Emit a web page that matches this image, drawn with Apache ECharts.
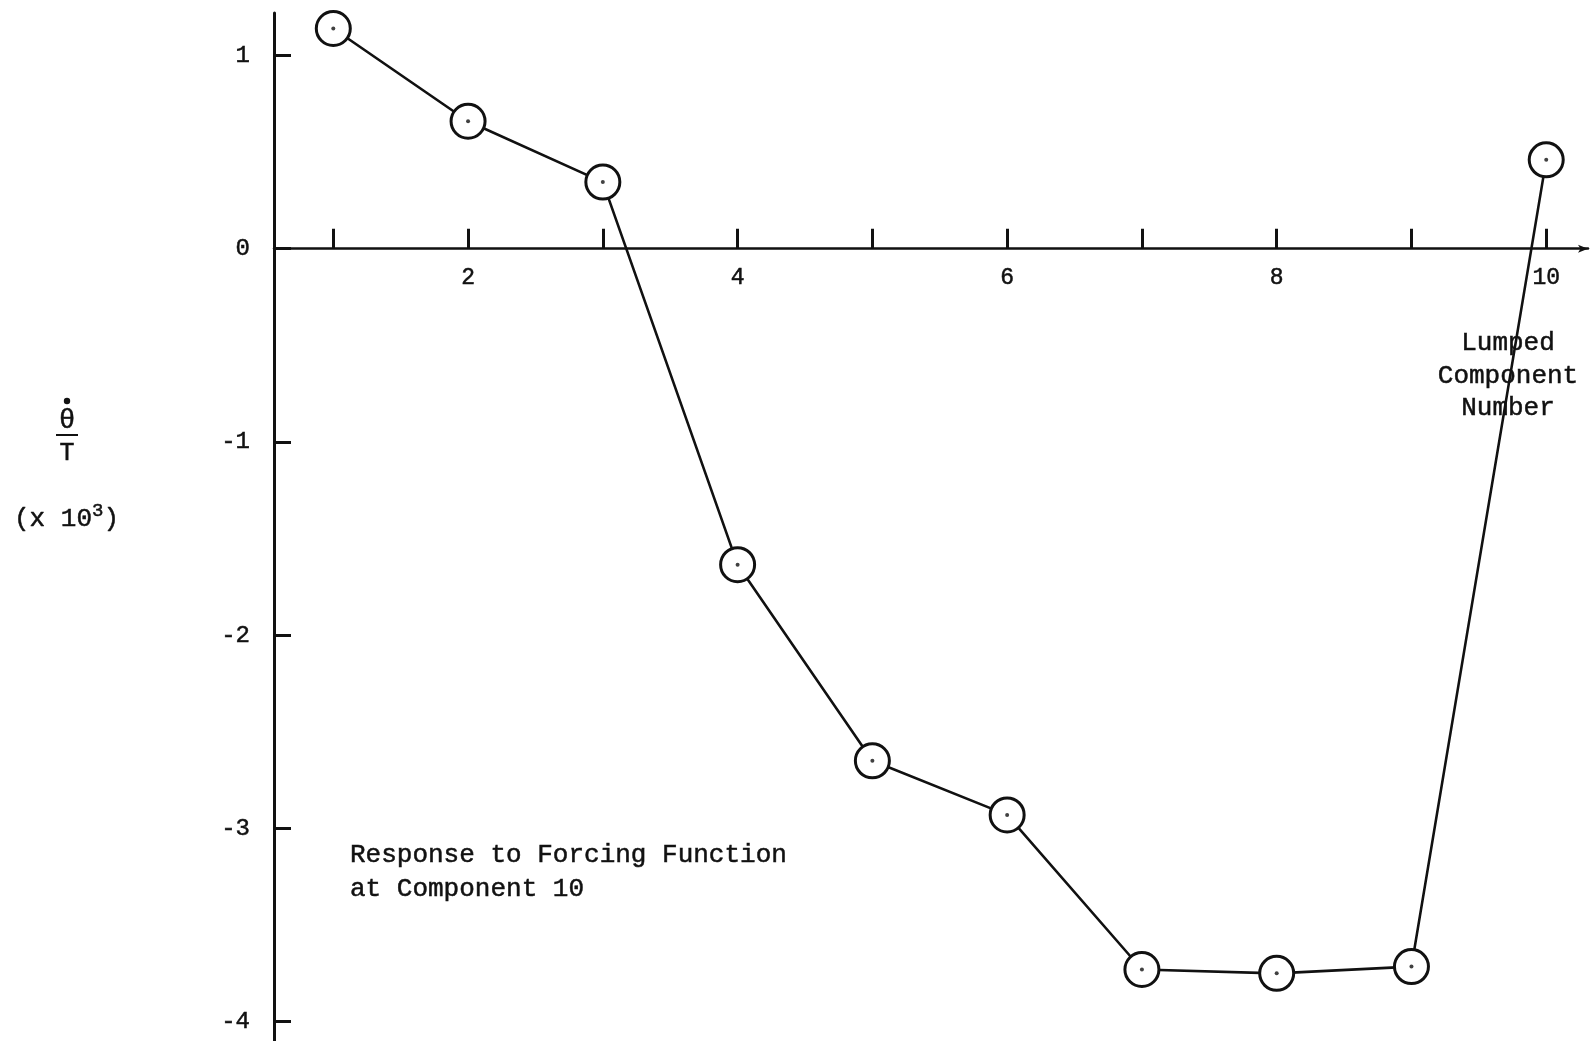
<!DOCTYPE html>
<html>
<head>
<meta charset="utf-8">
<title>Response to Forcing Function at Component 10</title>
<script src="https://cdn.jsdelivr.net/npm/echarts@6/dist/echarts.min.js"></script>
<style>
  html, body { margin: 0; padding: 0; background: #fff; }
  #chart { width: 1590px; height: 1041px; }
</style>
</head>
<body>
<div id="chart"></div>
<script>
// Lumped component numbers and the normalised response (theta-dot / T, x 10^3)
const componentNumbers = [1, 2, 3, 4, 5, 6, 7, 8, 9, 10];
const responseValues = [1.14, 0.66, 0.345, -1.635, -2.65, -2.93, -3.73, -3.75, -3.715, 0.46];

// Axis ticks and labelled values
const xTickValues = [1, 2, 3, 4, 5, 6, 7, 8, 9, 10];
const xTickLabels = [2, 4, 6, 8, 10];
const yTickValues = [-4, -3, -2, -1, 0, 1];

const points = componentNumbers.map((c, i) => [c, responseValues[i]]);

const MONO = '"Liberation Mono", "DejaVu Sans Mono", monospace';
const INK = '#111';

// plot area
const GRID_TOP = 13, GRID_BOTTOM = 0, CHART_H = 1041;
const Y_MIN = -4.1, Y_MAX = 1.22;
// the horizontal axis runs along value 0 of the vertical axis
const plotH = CHART_H - GRID_TOP - GRID_BOTTOM;
const zeroOffset = -plotH * (0 - Y_MIN) / (Y_MAX - Y_MIN);

// shared look for the free-standing typewritten labels
function typed(extra) {
  return Object.assign({
    fontFamily: MONO, fontSize: 26, fill: INK,
    stroke: INK, lineWidth: 0.5
  }, extra);
}

const chart = echarts.init(document.getElementById('chart'), null, { renderer: 'canvas' });

chart.setOption({
  backgroundColor: '#fff',
  animation: false,
  grid: {
    left: 274, right: 2, top: GRID_TOP, bottom: GRID_BOTTOM,
    containLabel: false, outerBoundsMode: 'none'
  },
  xAxis: {
    type: 'value',
    position: 'bottom',
    offset: zeroOffset,
    min: 0.56,
    max: 10.31,
    splitLine: { show: false },
    axisLine: {
      onZero: false,
      lineStyle: { color: INK, width: 2.5 },
      symbol: ['none', 'arrow'],
      symbolSize: [6, 10]
    },
    axisTick: {
      inside: true,
      length: 20,
      customValues: xTickValues,
      lineStyle: { color: INK, width: 3 }
    },
    axisLabel: {
      customValues: xTickLabels,
      margin: 18,
      fontFamily: MONO,
      fontSize: 23,
      color: INK,
      textBorderColor: INK,
      textBorderWidth: 0.5
    }
  },
  yAxis: {
    type: 'value',
    min: Y_MIN,
    max: Y_MAX,
    splitLine: { show: false },
    axisLine: { show: true, onZero: false, lineStyle: { color: INK, width: 3 } },
    axisTick: {
      inside: true,
      length: 17,
      customValues: yTickValues,
      lineStyle: { color: INK, width: 3 }
    },
    axisLabel: {
      customValues: yTickValues,
      margin: 24,
      fontFamily: MONO,
      fontSize: 24,
      color: INK,
      textBorderColor: INK,
      textBorderWidth: 0.5
    }
  },
  series: [
    {
      type: 'line',
      data: points,
      symbol: 'circle',
      symbolSize: 34,
      itemStyle: { color: '#fff', borderColor: INK, borderWidth: 3 },
      lineStyle: { color: INK, width: 2.6 },
      z: 3
    },
    {
      // centre dot inside each circled point
      type: 'scatter',
      data: points,
      symbol: 'circle',
      symbolSize: 4,
      itemStyle: { color: INK },
      z: 4
    }
  ],
  graphic: [
    // y-axis quantity: theta-dot over T
    { type: 'circle', shape: { cx: 67, cy: 401, r: 3.2 }, style: { fill: INK } },
    {
      type: 'text', x: 67, y: 421,
      style: typed({ text: 'θ', fontSize: 27, align: 'center', verticalAlign: 'middle' })
    },
    { type: 'line', shape: { x1: 56, y1: 435, x2: 78, y2: 435 }, style: { stroke: INK, lineWidth: 2 } },
    {
      type: 'text', x: 67, y: 453,
      style: typed({ text: 'T', fontSize: 25, align: 'center', verticalAlign: 'middle' })
    },
    {
      type: 'text', x: 14, y: 519,
      style: typed({
        text: '(x 10{sup|3})',
        verticalAlign: 'middle',
        rich: {
          sup: {
            fontFamily: MONO, fontSize: 19, fill: INK, stroke: INK, lineWidth: 0.5,
            verticalAlign: 'bottom', padding: [0, 0, 16, 0]
          }
        }
      })
    },
    // axis title at the right end of the horizontal axis
    {
      type: 'text', x: 1508, y: 327,
      style: typed({
        text: 'Lumped\nComponent\nNumber',
        lineHeight: 32.5, align: 'center', verticalAlign: 'top'
      })
    },
    // chart caption
    {
      type: 'text', x: 350, y: 838,
      style: typed({
        text: 'Response to Forcing Function\nat Component 10',
        lineHeight: 34, align: 'left', verticalAlign: 'top'
      })
    }
  ]
});
</script>
</body>
</html>
